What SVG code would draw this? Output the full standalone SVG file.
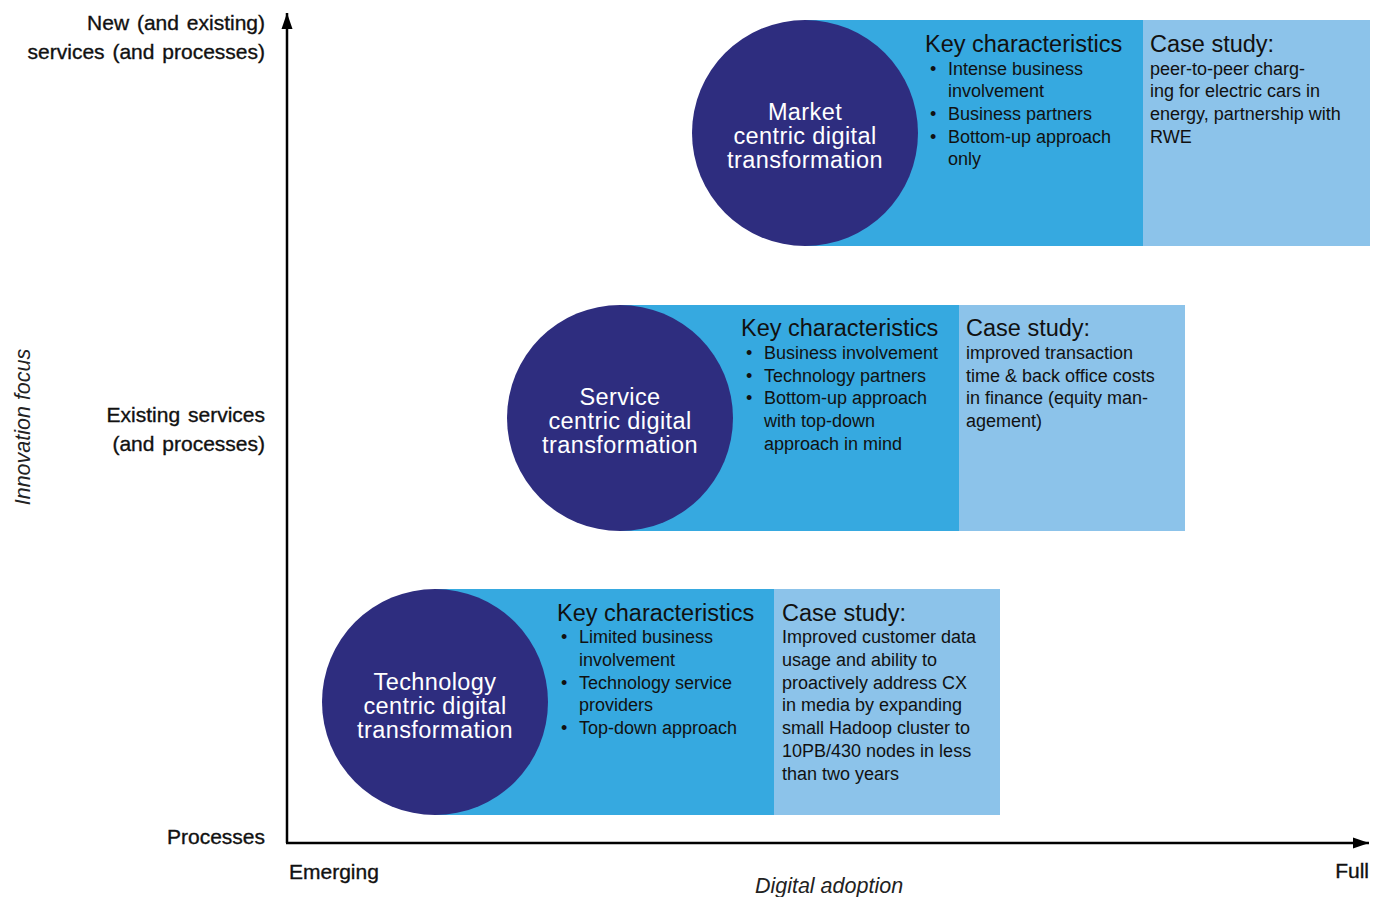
<svg xmlns="http://www.w3.org/2000/svg" width="1383" height="897" viewBox="0 0 1383 897">
  <style>
    .circle { fill: #2E2D7F; }
    .key { fill: #36A9E0; }
    .case { fill: #8CC3EA; }
    text { font-family: "Liberation Sans", Arial, sans-serif; fill: #111; }
    .ctitle { font-size: 23.5px; letter-spacing: 0.4px; fill: #fff; text-anchor: middle; }
    .head { font-size: 23.5px; }
    .body { font-size: 18px; }
    .axlab, .axlab-r { font-size: 21px; word-spacing: 2px; stroke: #111; stroke-width: 0.35px; }
    .axlab-r { text-anchor: end; }
    .axtitle { font-size: 21.5px; font-style: italic; fill: #222; }
    .axis { stroke: #000; stroke-width: 2.5; fill: none; }
  </style>
  <defs>
    <marker id="arrow" markerUnits="userSpaceOnUse" markerWidth="18" markerHeight="14" refX="16" refY="7" orient="auto">
      <path d="M0,1.5 L16,7 L0,12.5 Z" fill="#000"/>
    </marker>
  </defs>

  <!-- axes -->
  <g id="connectors">
    <path class="axis" d="M287,843 L287,13" marker-end="url(#arrow)"/>
    <path class="axis" d="M286,843 L1369,843" marker-end="url(#arrow)"/>
  </g>

  <!-- axis labels -->
  <g id="axis-labels">
    <text class="axlab-r" x="265" y="30">New (and existing)</text>
    <text class="axlab-r" x="265" y="59">services (and processes)</text>
    <text class="axlab-r" x="265" y="422">Existing services</text>
    <text class="axlab-r" x="265" y="451">(and processes)</text>
    <text class="axlab-r" x="265" y="844">Processes</text>
    <text class="axlab" x="289" y="879" font-size="22">Emerging</text>
    <text class="axlab-r" x="1369" y="878">Full</text>
    <text class="axtitle" x="829" y="893" text-anchor="middle">Digital adoption</text>
    <text class="axtitle" transform="translate(30,427) rotate(-90)" text-anchor="middle">Innovation focus</text>
  </g>

  <!-- market centric -->
  <g id="market">
    <rect class="key" x="805" y="20" width="338" height="226"/>
    <rect class="case" x="1143" y="20" width="227" height="226"/>
    <circle class="circle" cx="805" cy="133" r="113"/>
    <text class="ctitle" x="805" y="120">Market</text>
    <text class="ctitle" x="805" y="144">centric digital</text>
    <text class="ctitle" x="805" y="168">transformation</text>
    <text class="head" x="925" y="52">Key characteristics</text>
    <text class="body" x="930" y="75">•</text>
    <text class="body" x="948" y="75">Intense business</text>
    <text class="body" x="948" y="97">involvement</text>
    <text class="body" x="930" y="120">•</text>
    <text class="body" x="948" y="120">Business partners</text>
    <text class="body" x="930" y="143">•</text>
    <text class="body" x="948" y="143">Bottom-up approach</text>
    <text class="body" x="948" y="165">only</text>
    <text class="head" x="1150" y="52">Case study:</text>
    <text class="body" x="1150" y="75">peer-to-peer charg-</text>
    <text class="body" x="1150" y="97">ing for electric cars in</text>
    <text class="body" x="1150" y="120">energy, partnership with</text>
    <text class="body" x="1150" y="143">RWE</text>
  </g>

  <!-- service centric -->
  <g id="service">
    <rect class="key" x="620" y="305" width="339" height="226"/>
    <rect class="case" x="959" y="305" width="226" height="226"/>
    <circle class="circle" cx="620" cy="418" r="113"/>
    <text class="ctitle" x="620" y="405">Service</text>
    <text class="ctitle" x="620" y="429">centric digital</text>
    <text class="ctitle" x="620" y="453">transformation</text>
    <text class="head" x="741" y="336">Key characteristics</text>
    <text class="body" x="746" y="359">•</text>
    <text class="body" x="764" y="359">Business involvement</text>
    <text class="body" x="746" y="382">•</text>
    <text class="body" x="764" y="382">Technology partners</text>
    <text class="body" x="746" y="404">•</text>
    <text class="body" x="764" y="404">Bottom-up approach</text>
    <text class="body" x="764" y="427">with top-down</text>
    <text class="body" x="764" y="450">approach in mind</text>
    <text class="head" x="966" y="336">Case study:</text>
    <text class="body" x="966" y="359">improved transaction</text>
    <text class="body" x="966" y="382">time &amp; back office costs</text>
    <text class="body" x="966" y="404">in finance (equity man-</text>
    <text class="body" x="966" y="427">agement)</text>
  </g>

  <!-- technology centric -->
  <g id="technology">
    <rect class="key" x="435" y="589" width="339" height="226"/>
    <rect class="case" x="774" y="589" width="226" height="226"/>
    <circle class="circle" cx="435" cy="702" r="113"/>
    <text class="ctitle" x="435" y="690">Technology</text>
    <text class="ctitle" x="435" y="714">centric digital</text>
    <text class="ctitle" x="435" y="738">transformation</text>
    <text class="head" x="557" y="621">Key characteristics</text>
    <text class="body" x="561" y="643">•</text>
    <text class="body" x="579" y="643">Limited business</text>
    <text class="body" x="579" y="666">involvement</text>
    <text class="body" x="561" y="689">•</text>
    <text class="body" x="579" y="689">Technology service</text>
    <text class="body" x="579" y="711">providers</text>
    <text class="body" x="561" y="734">•</text>
    <text class="body" x="579" y="734">Top-down approach</text>
    <text class="head" x="782" y="621">Case study:</text>
    <text class="body" x="782" y="643">Improved customer data</text>
    <text class="body" x="782" y="666">usage and ability to</text>
    <text class="body" x="782" y="689">proactively address CX</text>
    <text class="body" x="782" y="711">in media by expanding</text>
    <text class="body" x="782" y="734">small Hadoop cluster to</text>
    <text class="body" x="782" y="757">10PB/430 nodes in less</text>
    <text class="body" x="782" y="780">than two years</text>
  </g>
</svg>
